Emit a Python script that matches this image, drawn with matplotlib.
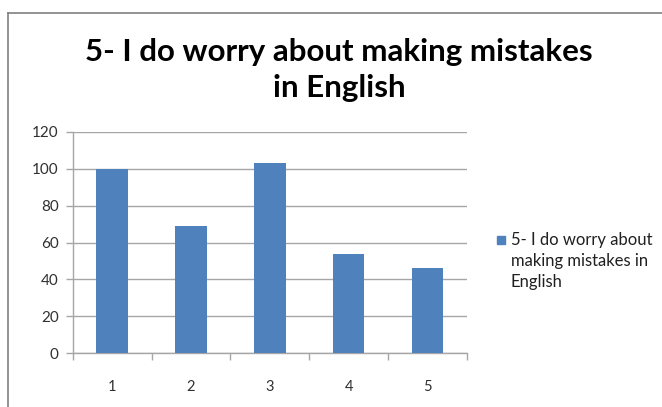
import matplotlib.pyplot as plt
from matplotlib.lines import Line2D
from matplotlib.patches import Rectangle
import numpy as np

# data
categories = ['1', '2', '3', '4', '5']
values = [100, 69, 103, 54, 46]
series_name = '5- I do worry about\nmaking mistakes in\nEnglish'
title = '5- I do worry about making mistakes\nin English'
bar_color = '#4F81BD'

plt.rcParams['font.family'] = ['Lato', 'DejaVu Sans']

fig = plt.figure(figsize=(6.62, 4.07), dpi=100)
ax = fig.add_axes([0.1098, 0.1319, 0.5956, 0.5445])

x = np.arange(len(categories))
ax.bar(x, values, width=0.4, color=bar_color, zorder=3)

ax.set_xlim(-0.5, len(categories) - 0.5)
ax.set_ylim(0, 120)
ax.set_yticks(range(0, 121, 20))
ax.yaxis.grid(True, color='#A6A6A6', linewidth=1, zorder=0)

ax.set_xticks(x)
ax.set_xticklabels(categories)
ax.set_xticks(np.arange(-0.5, len(categories)), minor=True)
ax.tick_params(axis='x', which='major', length=0, pad=19, labelsize=10.5, labelcolor='#303030')
ax.tick_params(axis='x', which='minor', length=5, color='#A6A6A6', width=1)
ax.tick_params(axis='y', length=5, color='#A6A6A6', width=1, labelsize=11,
               labelcolor='#303030', pad=5)

for s in ['top', 'right']:
    ax.spines[s].set_visible(False)
for s in ['left', 'bottom']:
    ax.spines[s].set_color('#A6A6A6')
    ax.spines[s].set_linewidth(1)

fig.text(0.512, 0.828, title, ha='center', va='center', fontsize=22.5,
         fontweight='bold', linespacing=1.32)

# legend: square key beside the first line of the series name
fig.patches.append(Rectangle((497 / 662, 1 - 244 / 407), 8 / 662, 8 / 407,
                             transform=fig.transFigure, color=bar_color))
fig.text(511 / 662, 1 - 232 / 407, series_name, ha='left', va='top', fontsize=12,
         color='#202020', linespacing=1.4)

# outer chart border (top and left visible)
fig.add_artist(Line2D([0.012, 1.0], [0.968, 0.968], color='#808080', linewidth=1.2,
                      transform=fig.transFigure))
fig.add_artist(Line2D([0.012, 0.012], [0.0, 0.968], color='#808080', linewidth=1.2,
                      transform=fig.transFigure))

fig.savefig('out.png', dpi=100)
